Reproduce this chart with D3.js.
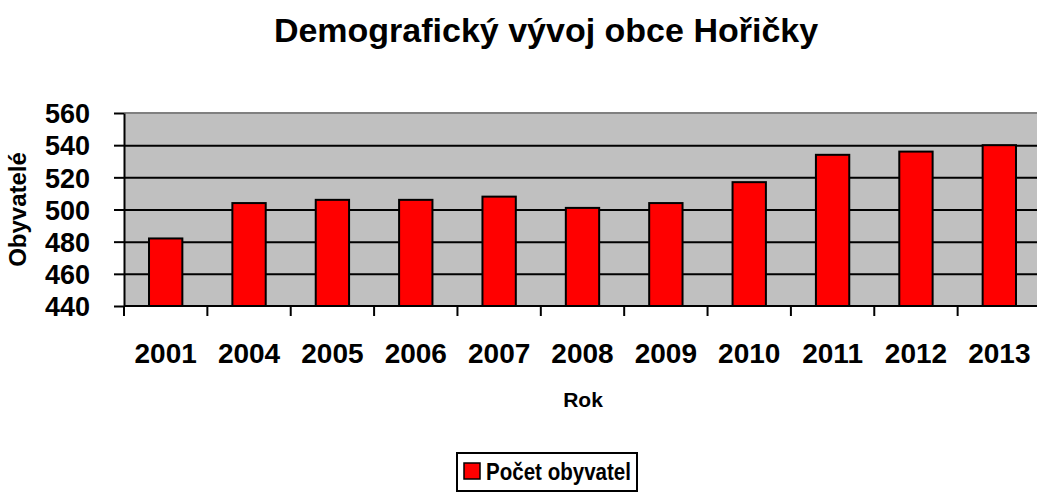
<!DOCTYPE html>
<html>
<head>
<meta charset="utf-8">
<script src="https://cdn.jsdelivr.net/npm/d3@7"></script>
<style>
  body { margin: 0; background: #fff; }
  svg { display: block; font-family: "Liberation Sans", Arial, sans-serif; font-weight: bold; }
</style>
</head>
<body>
<svg id="chart" width="1037" height="496"></svg>
<script>
// data
var years = ["2001", "2004", "2005", "2006", "2007", "2008", "2009", "2010", "2011", "2012", "2013"];
var population = [482, 504, 506, 506, 508, 501, 504, 517, 534, 536, 540];
var yTicks = [440, 460, 480, 500, 520, 540, 560];

var svg = d3.select("#chart");

var plotLeft = 124, plotRight = 1041, plotTop = 113, plotBottom = 306;

var xOuter = d3.scaleBand().domain(years).range([plotLeft, plotRight]).padding(0);
var x = d3.scaleBand().domain(years).range([plotLeft, plotRight])
  .paddingInner(0.6).paddingOuter(0.3);
var y = d3.scaleLinear().domain([440, 560]).range([plotBottom, plotTop]);

// plot background
svg.append("rect")
  .attr("x", plotLeft).attr("y", plotTop)
  .attr("width", plotRight - plotLeft).attr("height", plotBottom - plotTop)
  .attr("fill", "#c0c0c0");

// gridlines
svg.append("g")
  .attr("transform", "translate(" + plotLeft + ",0)")
  .call(d3.axisLeft(y).tickValues(yTicks.slice(1, -1)).tickSize(-(plotRight - plotLeft)).tickFormat(""))
  .call(g => g.select(".domain").remove())
  .selectAll("line").attr("stroke", "#000").attr("stroke-width", 2);

// top border
svg.append("line")
  .attr("x1", plotLeft).attr("x2", plotRight)
  .attr("y1", plotTop).attr("y2", plotTop)
  .attr("stroke", "#808080").attr("stroke-width", 2);

// bars
svg.append("g")
  .selectAll("rect")
  .data(years)
  .enter()
  .append("rect")
  .attr("x", d => x(d))
  .attr("y", (d, i) => y(population[i]))
  .attr("width", x.bandwidth())
  .attr("height", (d, i) => y(440) - y(population[i]))
  .attr("fill", "#ff0000")
  .attr("stroke", "#000")
  .attr("stroke-width", 2);

// y axis
var yAxis = svg.append("g")
  .attr("transform", "translate(" + plotLeft + ",0)")
  .call(d3.axisLeft(y).tickValues(yTicks).tickSize(10).tickPadding(24).tickSizeOuter(0));
yAxis.select(".domain").attr("stroke", "#000").attr("stroke-width", 2);
yAxis.selectAll("line").attr("stroke", "#000").attr("stroke-width", 2);
yAxis.selectAll("text").attr("font-size", 27).attr("fill", "#000").attr("dy", "0.36em");

// x axis line + boundary ticks
svg.append("line")
  .attr("x1", plotLeft).attr("x2", plotRight)
  .attr("y1", plotBottom).attr("y2", plotBottom)
  .attr("stroke", "#000").attr("stroke-width", 2);
svg.append("line")
  .attr("x1", plotLeft).attr("x2", plotLeft)
  .attr("y1", plotBottom).attr("y2", plotBottom + 10)
  .attr("stroke", "#000").attr("stroke-width", 2);
svg.append("g")
  .selectAll("line")
  .data(years.slice(1))
  .enter()
  .append("line")
  .attr("x1", d => xOuter(d)).attr("x2", d => xOuter(d))
  .attr("y1", plotBottom).attr("y2", plotBottom + 10)
  .attr("stroke", "#000").attr("stroke-width", 2);

// x labels
var xAxis = svg.append("g")
  .attr("transform", "translate(0," + plotBottom + ")")
  .call(d3.axisBottom(xOuter).tickSize(0).tickPadding(0));
xAxis.select(".domain").remove();
xAxis.selectAll("text").attr("font-size", 28).attr("fill", "#000").attr("dy", 0).attr("y", 57);

// titles
svg.append("text")
  .attr("x", 546).attr("y", 42)
  .attr("text-anchor", "middle")
  .attr("font-size", 34)
  .text("Demografický vývoj obce Hořičky");

svg.append("text")
  .attr("x", 583).attr("y", 407)
  .attr("text-anchor", "middle")
  .attr("font-size", 21)
  .text("Rok");

svg.append("text")
  .attr("transform", "translate(26," + ((plotTop + plotBottom) / 2) + ") rotate(-90)")
  .attr("text-anchor", "middle")
  .attr("font-size", 24)
  .text("Obyvatelé");

// legend
var legend = svg.append("g");
legend.append("rect")
  .attr("x", 457).attr("y", 453)
  .attr("width", 180).attr("height", 38)
  .attr("fill", "#fff").attr("stroke", "#000").attr("stroke-width", 2);
legend.append("rect")
  .attr("x", 464).attr("y", 463)
  .attr("width", 16).attr("height", 16)
  .attr("fill", "#ff0000").attr("stroke", "#000").attr("stroke-width", 1.5);
legend.append("text")
  .attr("x", 486).attr("y", 480)
  .attr("font-size", 24)
  .attr("textLength", 145)
  .attr("lengthAdjust", "spacingAndGlyphs")
  .text("Počet obyvatel");
</script>
</body>
</html>
